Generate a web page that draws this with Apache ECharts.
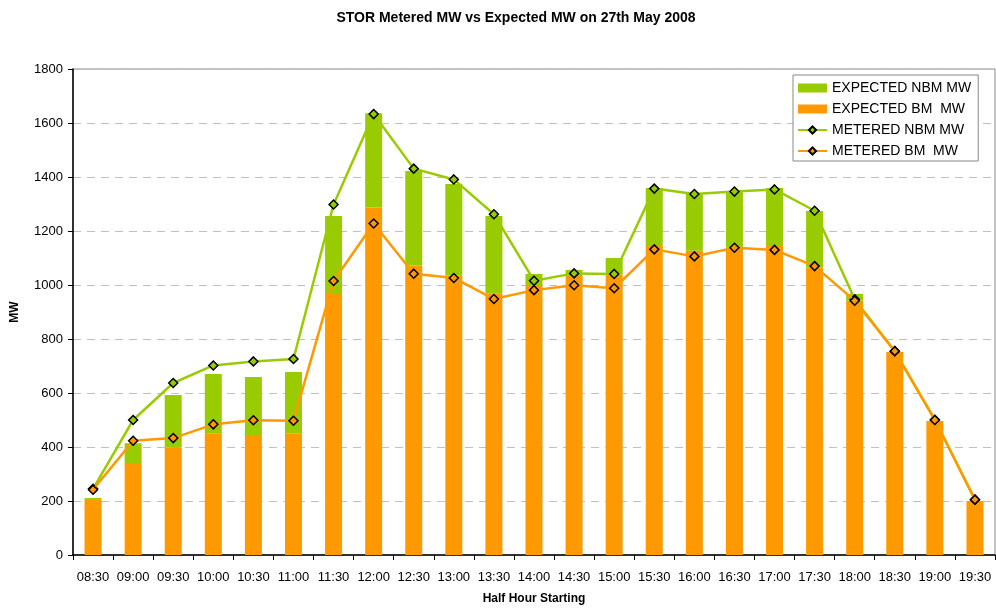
<!DOCTYPE html>
<html>
<head>
<meta charset="utf-8">
<script src="https://cdn.jsdelivr.net/npm/echarts@6/dist/echarts.min.js"></script>
<style>
  html, body { margin: 0; padding: 0; background: #fff; }
  #chart { width: 996px; height: 608px; }
</style>
</head>
<body>
<div id="chart"></div>
<script>
// half hour slots
const halfHours = ['08:30', '09:00', '09:30', '10:00', '10:30', '11:00', '11:30', '12:00', '12:30', '13:00', '13:30', '14:00',
  '14:30', '15:00', '15:30', '16:00', '16:30', '17:00', '17:30', '18:00', '18:30', '19:00', '19:30']

// expected MW (stacked bars)
const expectedBM = [204, 337, 397, 451, 441, 451, 970, 1287, 1072, 1035, 969, 1000, 1037, 1040, 1148, 1127, 1138, 1148, 1065, 942, 752, 496, 200]
const expectedNBM = [7, 77, 196, 219, 218, 227, 286, 349, 350, 339, 287, 41, 19, 60, 211, 212, 208, 211, 209, 25, 0, 0, 0]

// metered MW (lines)
const meteredNBM = [245, 500, 637, 702, 717, 726, 1298, 1633, 1431, 1391, 1262, 1016, 1043, 1041, 1357, 1337, 1346, 1354, 1275, 947, 755, 501, 205]
const meteredBM = [242, 423, 433, 484, 499, 497, 1015, 1228, 1042, 1026, 948, 981, 999, 988, 1132, 1106, 1138, 1130, 1070, 942, 755, 500, 205]

const green = '#99cc00'
const orange = '#ff9900'
const font = 'Arial, "Liberation Sans", sans-serif'

const lineSeries = (name, data, color, z) => ({
  name,
  type: 'line',
  data,
  z,
  symbol: 'diamond',
  symbolSize: 9,
  lineStyle: { color, width: 2.5 },
  itemStyle: { color, borderColor: '#000', borderWidth: 1.5 }
})

const myChart = echarts.init(document.getElementById('chart'))
myChart.setOption({
  animation: false,
  textStyle: { fontFamily: font },
  title: {
    text: 'STOR Metered MW vs Expected MW on 27th May 2008',
    left: 511,
    textAlign: 'center',
    top: 6,
    textStyle: { fontSize: 14, fontWeight: 'bold', color: '#000', fontFamily: font }
  },
  legend: {
    orient: 'vertical',
    left: 793,
    top: 75,
    padding: [6, 7, 3, 4],
    itemGap: 7,
    itemWidth: 29,
    itemHeight: 9,
    borderColor: '#888',
    borderWidth: 1,
    backgroundColor: '#fff',
    textStyle: { fontSize: 14, color: '#000', fontFamily: font },
    data: [
      { name: 'EXPECTED NBM MW', icon: 'rect' },
      { name: 'EXPECTED BM  MW', icon: 'rect' },
      'METERED NBM MW',
      'METERED BM  MW'
    ]
  },
  grid: {
    left: 73,
    right: 1,
    top: 69,
    bottom: 53,
    outerBoundsMode: 'none',
    show: true,
    borderColor: '#888',
    borderWidth: 1
  },
  xAxis: {
    type: 'category',
    data: halfHours,
    name: 'Half Hour Starting',
    nameLocation: 'middle',
    nameGap: 38,
    nameTextStyle: { fontSize: 12, fontWeight: 'bold', color: '#000' },
    axisLine: { lineStyle: { color: '#000', width: 1.5 } },
    axisTick: { show: true, length: 5, lineStyle: { color: '#000' } },
    axisLabel: { color: '#000', fontSize: 13, margin: 16, interval: 0 }
  },
  yAxis: {
    type: 'value',
    min: 0,
    max: 1800,
    interval: 200,
    name: 'MW',
    nameLocation: 'middle',
    nameGap: 52,
    nameTextStyle: { fontSize: 12, fontWeight: 'bold', color: '#000' },
    axisLine: { show: true, lineStyle: { color: '#000', width: 1.5 } },
    axisTick: { show: true, length: 5, lineStyle: { color: '#000' } },
    axisLabel: { color: '#000', fontSize: 13, margin: 10, formatter: v => String(v) },
    splitLine: { lineStyle: { color: '#c0c0c0', type: [8, 6] } }
  },
  series: [
    {
      name: 'EXPECTED BM  MW',
      type: 'bar',
      stack: 'expected',
      data: expectedBM,
      barWidth: 17,
      itemStyle: { color: orange }
    },
    {
      name: 'EXPECTED NBM MW',
      type: 'bar',
      stack: 'expected',
      data: expectedNBM,
      barWidth: 17,
      itemStyle: { color: green }
    },
    lineSeries('METERED NBM MW', meteredNBM, green, 3),
    lineSeries('METERED BM  MW', meteredBM, orange, 4)
  ]
})
window.addEventListener('resize', () => {
  myChart.resize()
})
</script>
</body>
</html>
